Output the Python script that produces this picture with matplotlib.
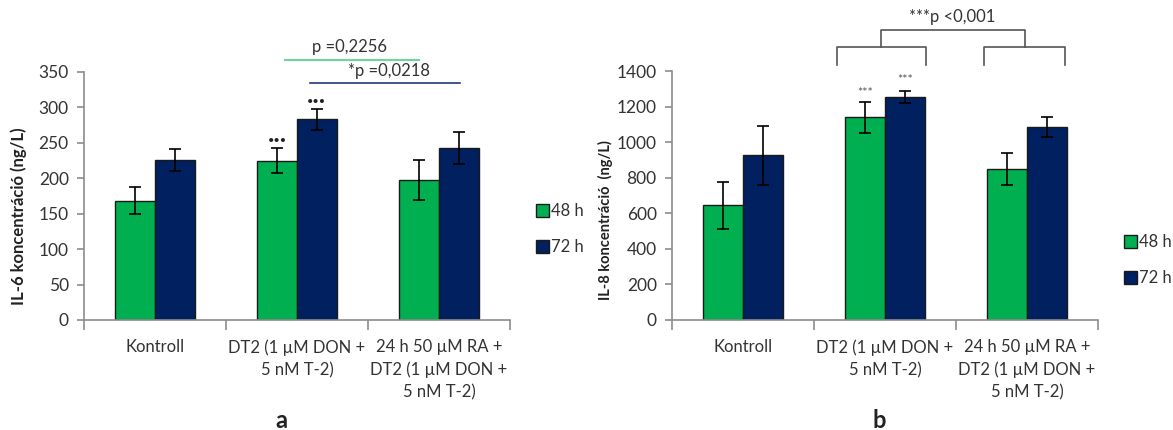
import numpy as np
import matplotlib.pyplot as plt

plt.rcParams['font.family'] = ['Lato', 'DejaVu Sans']

categories = ["Kontroll", "DT2 (1 µM DON +\n5 nM T-2)", "24 h 50 µM RA +\nDT2 (1 µM DON +\n5 nM T-2)"]
series = ["48 h", "72 h"]

il6_48 = [168, 225, 198]
il6_48_err = [19, 18, 28]
il6_72 = [226, 283, 243]
il6_72_err = [16, 15, 23]

il8_48 = [644, 1140, 850]
il8_48_err = [134, 86, 90]
il8_72 = [925, 1255, 1084]
il8_72_err = [168, 33, 57]

green = "#00B050"
navy = "#002060"
txt = "#333333"
axc = "#8C8C8C"

fig = plt.figure(figsize=(11.73, 4.3), dpi=100)
ax1 = fig.add_axes([84/1173, 110/430, 426/1173, 248/430])
ax2 = fig.add_axes([672/1173, 110/430, 426/1173, 249/430])

x = np.arange(len(categories))
w = 0.284

def draw(ax, v48, e48, v72, e72, ymax, step, leg_y):
    ax.bar(x - w/2, v48, w, color=green, edgecolor="#1a1a1a", linewidth=1.0,
           yerr=e48, capsize=4, error_kw=dict(ecolor="black", elinewidth=1.2, capthick=1.2),
           label=series[0], zorder=2)
    ax.bar(x + w/2, v72, w, color=navy, edgecolor="#1a1a1a", linewidth=1.0,
           yerr=e72, capsize=4, error_kw=dict(ecolor="black", elinewidth=1.2, capthick=1.2),
           label=series[1], zorder=2)
    ax.set_xlim(-0.5, 2.5)
    ax.set_ylim(0, ymax)
    ax.set_yticks(np.arange(0, ymax + 1, step))
    ax.set_xticks([-0.5, 0.5, 1.5, 2.5])
    ax.set_xticklabels([])
    ax.set_xticks(x, minor=True)
    ax.set_xticklabels(categories, minor=True, fontsize=12, color=txt, linespacing=1.45, va="top")
    ax.tick_params(axis="x", which="minor", length=0, pad=14)
    ax.tick_params(axis="x", which="major", length=7, color=axc, width=1.2)
    ax.tick_params(axis="y", length=5, color=axc, width=1.2, labelsize=12.5, labelcolor=txt, pad=6)
    for s in ["top", "right"]:
        ax.spines[s].set_visible(False)
    for s in ["left", "bottom"]:
        ax.spines[s].set_color(axc)
        ax.spines[s].set_linewidth(1.2)
    ax.legend(loc="center left", bbox_to_anchor=(1.062, leg_y), frameon=False, fontsize=12,
              handlelength=0.75, handleheight=0.8, handletextpad=0.15, labelspacing=1.2,
              borderpad=0, borderaxespad=0, labelcolor=txt)

draw(ax1, il6_48, il6_48_err, il6_72, il6_72_err, 350, 50, 0.365)
draw(ax2, il8_48, il8_48_err, il8_72, il8_72_err, 1400, 200, 0.24)

# panel a annotations
ax1.text(0.86, 254, "•••", ha="center", va="center", fontsize=8, color="#222222")
ax1.text(1.14, 309, "•••", ha="center", va="center", fontsize=8, color="#222222")
ax1.plot([0.915, 1.86], [367, 367], color="#6FD49B", lw=1.5, clip_on=False)
ax1.plot([1.09, 2.15], [334, 334], color="#1F3A7A", lw=1.2, clip_on=False)
ax1.text(1.37, 385, "p =0,2256", ha="center", va="center", fontsize=12, color=txt)
ax1.text(1.65, 352, "*p =0,0218", ha="center", va="center", fontsize=12, color=txt)

# panel b annotations
ax2.text(0.86, 1275, "***", ha="center", va="center", fontsize=9, color="#555555")
ax2.text(1.14, 1350, "***", ha="center", va="center", fontsize=9, color="#555555")
bc = "#555555"
ax2.plot([0.664, 0.664, 1.289, 1.289], [1432, 1535, 1535, 1432], color=bc, lw=1.2, clip_on=False)
ax2.plot([1.699, 1.699, 2.268, 2.268], [1432, 1535, 1535, 1432], color=bc, lw=1.2, clip_on=False)
ax2.plot([0.972, 0.972, 1.984, 1.984], [1535, 1632, 1632, 1535], color=bc, lw=1.2, clip_on=False)
ax2.text(1.47, 1705, "***p <0,001", ha="center", va="center", fontsize=12, color=txt)

fig.text(19/1173, 1 - 216/430, "IL-6 koncentráció (ng/L)", rotation=90, ha="center", va="center",
         fontsize=12, fontweight="bold", color="#222222")
fig.text(605/1173, 1 - 220/430, "IL-8 koncentráció  (ng/L)", rotation=90, ha="center", va="center",
         fontsize=10.5, fontweight="bold", color="#222222")

fig.text(281/1173, 1 - 420/430, "a", ha="center", va="center", fontsize=17, fontweight="bold", color="#222222")
fig.text(879/1173, 1 - 420/430, "b", ha="center", va="center", fontsize=17, fontweight="bold", color="#222222")

fig.savefig("out.png", dpi=100)
